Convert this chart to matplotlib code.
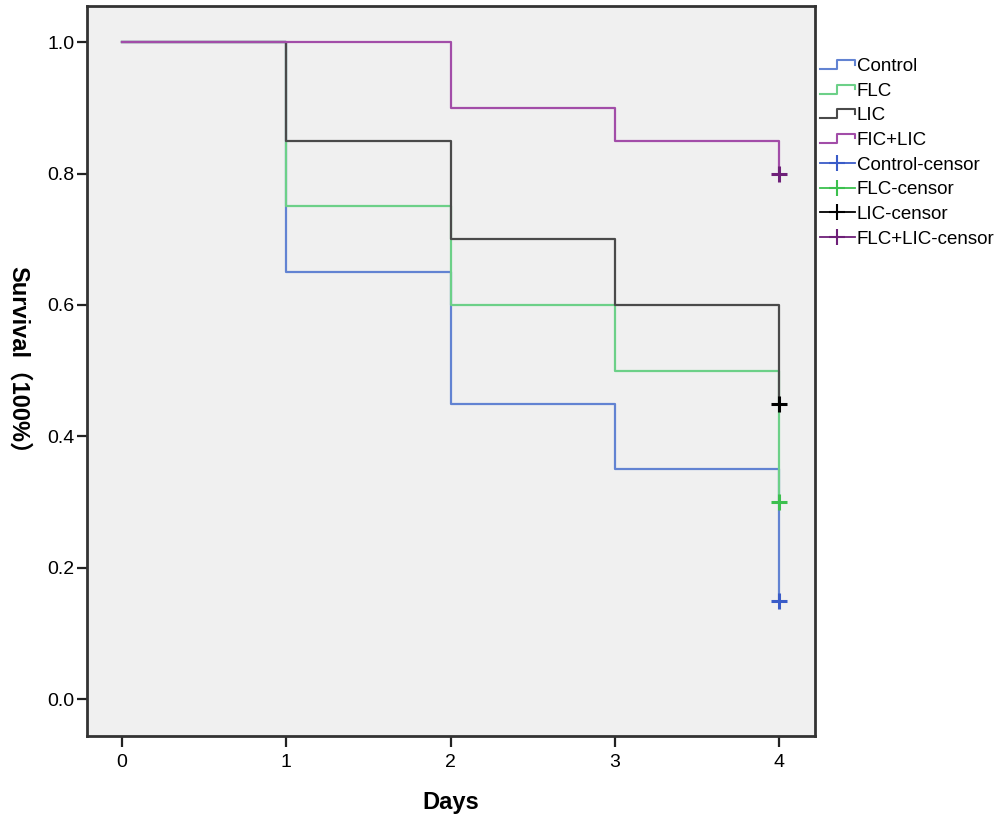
import numpy as np
import matplotlib
matplotlib.use("Agg")
import matplotlib.pyplot as plt
from matplotlib.lines import Line2D
from matplotlib.legend_handler import HandlerBase

plt.rcParams['font.family'] = ['Liberation Sans', 'Noto Sans CJK SC', 'DejaVu Sans']

# data
days = [0, 1, 2, 3, 4]
control = [1.0, 0.65, 0.45, 0.35, 0.15]
flc = [1.0, 0.75, 0.60, 0.50, 0.30]
lic = [1.0, 0.85, 0.70, 0.60, 0.45]
ficlic = [1.0, 1.0, 0.90, 0.85, 0.80]

names = ["Control", "FLC", "LIC", "FIC+LIC"]
censor_names = ["Control-censor", "FLC-censor", "LIC-censor", "FLC+LIC-censor"]
series = [control, flc, lic, ficlic]
line_colors = ["#6283D2", "#6CD088", "#4A4A4A", "#A24DA8"]
mark_colors = ["#3A5CC8", "#3CC04E", "#000000", "#6E2078"]


class StepHandler(HandlerBase):
    def create_artists(self, legend, orig, xd, yd, w, h, fs, trans):
        lo = yd + 0.15 * h
        hi = yd + 0.85 * h
        xs = [xd, xd + 0.5 * w, xd + 0.5 * w, xd + w, xd + w]
        ys = [lo, lo, hi, hi, hi - 0.35 * h]
        ln = Line2D(xs, ys, color=orig.get_color(), lw=1.5, transform=trans)
        return [ln]


fig = plt.figure(figsize=(10, 8.22), dpi=100)
ax = fig.add_axes([0.087, 0.1046, 0.728, 0.8881])
ax.set_facecolor("#F0F0F0")

step_lines = []
for vals, c in zip(series, line_colors):
    ln, = ax.step(days, vals, where="post", color=c, lw=1.6)
    step_lines.append(ln)

cens = []
for vals, c in zip(series, mark_colors):
    m, = ax.plot(days[-1], vals[-1], marker="+", ms=11, mew=2.2, color=c, ls="none")
    cens.append(Line2D([], [], color=c, marker="+", ms=11, mew=1.5, lw=1.3))

ax.set_xlim(-0.213, 4.219)
ax.set_ylim(-0.056, 1.055)
ax.set_xticks(days)
ax.set_yticks(np.arange(0, 1.01, 0.2))
ax.set_yticklabels(["0.0", "0.2", "0.4", "0.6", "0.8", "1.0"])
ax.tick_params(axis="x", length=8, width=1.6, pad=5, labelsize=14, color="#222222")
ax.tick_params(axis="y", length=7, width=1.6, pad=2, labelsize=14, color="#222222")
for s in ax.spines.values():
    s.set_linewidth(2)
    s.set_color("#333333")

ax.set_xlabel("Days", fontsize=17, fontweight="bold", labelpad=14)
fig.text(0.018, 0.555, "Survival（100%）", rotation=270, fontsize=17, fontweight="bold",
         ha="center", va="center", family=['Liberation Sans', 'Noto Sans CJK SC'])

handles = step_lines + cens
labels = names + censor_names
hmap = {ln: StepHandler() for ln in step_lines}
fig.legend(handles, labels, loc="upper left", bbox_to_anchor=(0.820, 0.9294),
           frameon=False, fontsize=13.5, handlelength=1.85, handletextpad=0.1,
           labelspacing=0.4, borderaxespad=0, borderpad=0, handler_map=hmap)

fig.savefig("out.png", dpi=100)
